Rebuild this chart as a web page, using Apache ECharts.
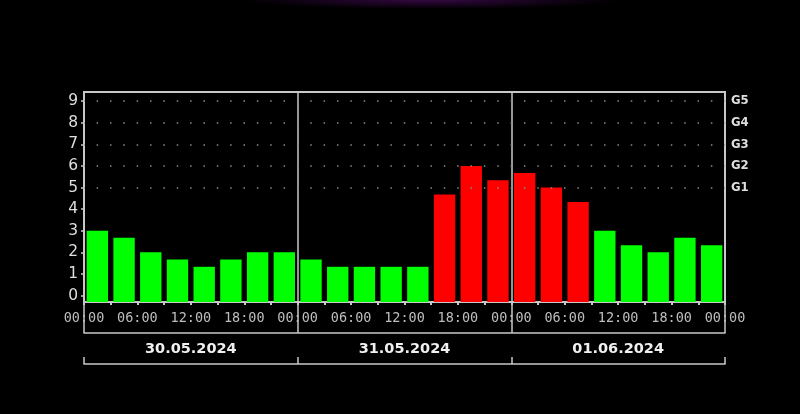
<!DOCTYPE html>
<html>
<head>
<meta charset="utf-8">
<script src="https://cdn.jsdelivr.net/npm/echarts@6/dist/echarts.min.js"></script>
<style>
html,body{margin:0;padding:0;width:800px;height:414px;overflow:hidden;
 background:#000 radial-gradient(ellipse 190px 9px at 430px 0px, rgba(95,15,120,0.55), rgba(0,0,0,0));}
#chart{width:800px;height:414px;}
</style>
</head>
<body>
<div id="chart"></div>
<script>
// ---- data ----
const days = ['30.05.2024', '31.05.2024', '01.06.2024'];
const slotStarts = ['00:00','03:00','06:00','09:00','12:00','15:00','18:00','21:00'];
const kp = [
  3.00, 2.67, 2.00, 1.67, 1.33, 1.67, 2.00, 2.00,
  1.67, 1.33, 1.33, 1.33, 1.33, 4.67, 6.00, 5.33,
  5.67, 5.00, 4.33, 3.00, 2.33, 2.00, 2.67, 2.33
];
const yTicks = [0, 1, 2, 3, 4, 5, 6, 7, 8, 9];
const gLevels = [5, 6, 7, 8, 9];
const gLabels = ['G1', 'G2', 'G3', 'G4', 'G5'];
const stormLevel = 4;

// ---- layout / style ----
const yMin = -0.3, yMax = 9.42;
const gridLeft = 84, gridRight = 75, gridTop = 92, gridBottom = 112;
const plotW = 800 - gridLeft - gridRight;
const dotPeriod = plotW / (kp.length * 2);
const GREEN = '#00ff00', RED = '#ff0000', LINE = '#c8c8c8';

const categories = [];
days.forEach(d => slotStarts.forEach(s => categories.push(d + ' ' + s)));

const pad = n => (n < 10 ? '0' : '') + n;

const chart = echarts.init(document.getElementById('chart'), null, {renderer: 'canvas'});
chart.setOption({
  backgroundColor: 'transparent',
  animation: false,
  grid: {left: gridLeft, right: gridRight, top: gridTop, bottom: gridBottom,
         show: true, borderColor: LINE, borderWidth: 2, backgroundColor: 'transparent'},
  xAxis: [
    {type: 'category', data: categories, show: false, boundaryGap: true, axisLine: {onZero: false}},
    {type: 'value', min: 0, max: 72, interval: 3, position: 'bottom',
     axisLine: {show: false, onZero: false},
     axisTick: {show: true, length: 3, lineStyle: {color: LINE, width: 2}},
     axisLabel: {color: '#bdbdbd', fontFamily: 'DejaVu Sans Mono', fontSize: 13.5, margin: 9,
       formatter: v => (v % 6 === 0 ? pad(v % 24) + ':00' : '')},
     splitLine: {show: false}},
    {type: 'value', min: 0, max: 72, interval: 24, position: 'bottom', offset: 31,
     axisLine: {show: true, onZero: false, lineStyle: {color: LINE, width: 1.5}},
     axisTick: {show: true, inside: true, length: 31, lineStyle: {color: LINE, width: 1.5}},
     axisLabel: {show: false},
     splitLine: {show: true, lineStyle: {color: LINE, width: 1.5}}},
    {type: 'category', data: days, position: 'bottom', offset: 31,
     axisLine: {show: false, onZero: false}, axisTick: {show: false},
     axisLabel: {color: '#f0f0f0', fontFamily: 'DejaVu Sans', fontWeight: 'bold', fontSize: 14.5, margin: 9},
     splitLine: {show: false}},
    {type: 'value', min: 0, max: 72, interval: 24, position: 'bottom', offset: 62,
     axisLine: {show: true, onZero: false, lineStyle: {color: LINE, width: 1.5}},
     axisTick: {show: true, inside: true, length: 7, lineStyle: {color: LINE, width: 1.5}},
     axisLabel: {show: false}, splitLine: {show: false}}
  ],
  yAxis: [
    {type: 'value', min: yMin, max: yMax, position: 'left',
     axisLine: {show: false}, axisTick: {show: false}, splitLine: {show: false},
     axisLabel: {customValues: yTicks, color: '#dedede', fontFamily: 'DejaVu Sans', fontSize: 15.5, margin: 6,
       formatter: v => String(Math.round(v))}},
    {type: 'value', min: yMin, max: yMax, position: 'right',
     axisLine: {show: false}, splitLine: {show: false},
     axisTick: {show: true, customValues: yTicks, inside: true, length: 3, lineStyle: {color: LINE, width: 1.5}},
     axisLabel: {customValues: gLevels, color: '#dedede', fontFamily: 'DejaVu Sans Condensed', fontWeight: 'bold',
       fontSize: 13, margin: 6,
       formatter: v => gLabels[gLevels.indexOf(Math.round(v))] || ''}}
  ],
  series: [
    {type: 'line', xAxisIndex: 0, yAxisIndex: 0, data: kp.map(() => null), symbol: 'none', z: 1,
     silent: true,
     markLine: {silent: true, symbol: 'none', label: {show: false},
       lineStyle: {color: '#8a8a8a', width: 1.5, type: [1.5, dotPeriod - 1.5], dashOffset: 0.75},
       data: gLevels.map(v => ({yAxis: v}))}},
    {type: 'custom', xAxisIndex: 0, yAxisIndex: 0, z: 3,
     data: kp.map((v, i) => [i, v]),
     encode: {x: 0, y: 1},
     renderItem: (params, api) => {
       const i = api.value(0), v = api.value(1);
       const top = api.coord([i, v]);
       const bot = api.coord([i, yMin]);
       const w = api.size([1, 0])[0] * 0.8;
       return {type: 'rect',
         shape: {x: top[0] - w / 2, y: top[1], width: w, height: bot[1] - top[1]},
         style: {fill: v >= stormLevel ? RED : GREEN}};
     }}
  ]
});
</script>
</body>
</html>
